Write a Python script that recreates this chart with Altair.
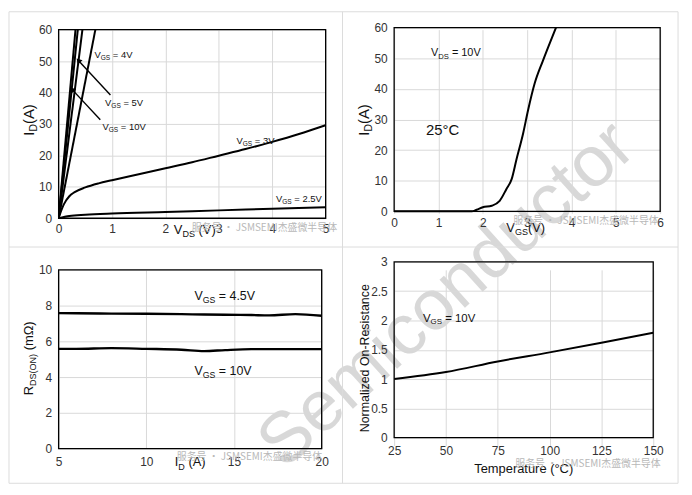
import altair as alt
import pandas as pd

# ---------------- data ----------------
# Panel 1: output characteristics, I_D (A) vs V_DS (V)
out_vds_c1 = [0.0, 0.316]
out_id_c1 = [0.0, 60.0]
out_vds_10v = [0.0, 0.359]
out_id_10v = [0.0, 60.0]
out_vds_5v = [0.0, 0.446]
out_id_5v = [0.0, 60.0]
out_vds_4v = [0.0, 0.688]
out_id_4v = [0.0, 60.0]
out_vds_3v = [0, 0.05, 0.1, 0.2, 0.3, 0.5, 0.75, 1, 1.5, 2, 2.5, 3, 3.5, 4, 4.5, 5]
out_id_3v = [0, 2.5, 4.5, 7.0, 8.3, 9.8, 11.1, 12.1, 14.0, 15.9, 17.8, 19.9, 22.0, 24.3, 26.8, 29.6]
out_vds_25v = [0, 0.2, 0.5, 1, 2, 3, 4, 5]
out_id_25v = [0, 0.7, 1.1, 1.5, 2.0, 2.5, 3.0, 3.5]

# Panel 2: transfer characteristic, I_D (A) vs V_GS (V), V_DS = 10V
tr_vgs = [0, 1.75, 1.86, 2.0, 2.2, 2.38, 2.53, 2.65, 2.76, 2.91, 3.02, 3.17, 3.35, 3.47, 3.65]
tr_id = [0, 0, 0.5, 1.3, 1.8, 3.4, 7.2, 10.5, 17, 25.5, 33, 41.8, 49, 53.5, 60]

# Panel 3: R_DS(ON) (mOhm) vs I_D (A)
rds_id = [5, 6, 8, 10, 12, 13.3, 14.5, 16, 17, 18.5, 20]
rds_45v = [7.58, 7.57, 7.55, 7.54, 7.52, 7.50, 7.49, 7.47, 7.45, 7.52, 7.43]
rds_10v = [5.58, 5.58, 5.62, 5.58, 5.53, 5.45, 5.51, 5.56, 5.56, 5.56, 5.56]

# Panel 4: normalized on-resistance vs temperature
nr_temp = [25, 50, 75, 100, 125, 150]
nr_val = [1.0, 1.12, 1.30, 1.455, 1.62, 1.79]

# axis tick values
p1_xticks = [0, 1, 2, 3, 4, 5]
p1_yticks = [0, 10, 20, 30, 40, 50, 60]
p2_xticks = [0, 1, 2, 3, 4, 5, 6]
p2_yticks = [0, 10, 20, 30, 40, 50, 60]
p3_xticks = [5, 10, 15, 20]
p3_yticks = [0, 2, 4, 6, 8, 10]
p4_xticks = [25, 50, 75, 100, 125, 150]
p4_yticks = [0, 0.5, 1, 1.5, 2, 2.5, 3]

WATERMARK = "服务号 · JSMSEMI杰盛微半导体"
BIG_WATERMARK = "Semiconductor"

# ---------------- helpers ----------------
FONT = "Liberation Sans, Arial, sans-serif"
CJK = "Noto Sans CJK SC"
W = {'V': 0.667, 'G': 0.778, 'S': 0.667, 'D': 0.722, 'I': 0.278, 'R': 0.722,
     'O': 0.778, 'N': 0.722, ' ': 0.278, '=': 0.584, '.': 0.278, '(': 0.333,
     ')': 0.333, 'A': 0.667, 'm': 0.833, 'Ω': 0.768}


def tw(s, fs):
    return sum(W.get(c, 0.556) for c in s) * fs


def one():
    return pd.DataFrame({'k': [0]})


def pieces_layout(pieces, fs):
    out, cx = [], 0.0
    for txt, is_sub in pieces:
        f = round(fs * 0.7, 1) if is_sub else fs
        dy = round(fs * 0.32, 1) if is_sub else 0
        stripped = txt.lstrip(' ')
        cx += tw(txt[:len(txt) - len(stripped)], f)
        out.append((stripped, f, cx, dy))
        cx += tw(stripped, f)
    return out, cx


LABEL_EXPR = 'datum.value + ""'


def make_xy(xdom, xticks, ydom, yticks, xpad, yrange=None):
    def X(f):
        return alt.X(f, type='quantitative',
                     scale=alt.Scale(domain=xdom, nice=False, zero=False),
                     axis=alt.Axis(values=xticks, title=None, labelPadding=xpad, labelExpr=LABEL_EXPR))

    def Y(f):
        sc = dict(domain=ydom, nice=False, zero=False)
        if yrange is not None:
            sc['range'] = yrange
        return alt.Y(f, type='quantitative', scale=alt.Scale(**sc),
                     axis=alt.Axis(values=yticks, title=None, labelPadding=7, labelExpr=LABEL_EXPR))
    return X, Y


def data_label(X, Y, x, y, pieces, fs):
    items, _ = pieces_layout(pieces, fs)
    df = pd.DataFrame({'lx': [x], 'ly': [y]})
    return [alt.Chart(df).mark_text(text=t, align='left', baseline='middle', dx=round(dx, 1), dy=dy,
                                    fontSize=f, font=FONT, color='#111')
            .encode(x=X('lx'), y=Y('ly')) for t, f, dx, dy in items]


def px_label(px, py, pieces, fs, angle=0, center=True):
    items, total = pieces_layout(pieces, fs)
    start = -total / 2 if center else 0
    layers = []
    for t, f, dx, dy in items:
        kw = dict(text=t, align='left', baseline='middle', dx=round(start + dx, 1), dy=dy,
                  fontSize=f, font=FONT, color='#111')
        if angle:
            kw['angle'] = angle
        layers.append(alt.Chart(one()).mark_text(**kw).encode(x=alt.value(px), y=alt.value(py)))
    return layers


def watermark(px, py):
    return alt.Chart(one()).mark_text(text=WATERMARK, align='left', baseline='middle', fontSize=10,
                                      font=CJK, color='#b8b8b8').encode(x=alt.value(px), y=alt.value(py))


def border(w, y0, y1):
    return alt.Chart(one()).mark_rect(fillOpacity=0, stroke='black', strokeWidth=1.3).encode(
        x=alt.value(0), x2=alt.value(w), y=alt.value(y0), y2=alt.value(y1))


def frame_rule(x1, y1, x2, y2):
    return alt.Chart(one()).mark_rule(color='#dcdcdc', strokeWidth=1).encode(
        x=alt.value(x1), x2=alt.value(x2), y=alt.value(y1), y2=alt.value(y2))


def curves(X, Y, series, width=2.0, clip=True):
    rows = []
    for name, xs, ys in series:
        for a, b in zip(xs, ys):
            rows.append({'x': a, 'y': b, 's': name})
    df = pd.DataFrame(rows)
    return alt.Chart(df).mark_line(color='black', strokeWidth=width, interpolate='monotone', clip=clip).encode(
        x=X('x'), y=Y('y'), detail='s:N')


# ---------------- panel 1 ----------------
W1, H1 = 269, 190
X1, Y1 = make_xy([0, 5], p1_xticks, [0, 60], p1_yticks, 5)
p1_layers = [
    alt.Chart(one()).mark_text(text=BIG_WATERMARK, align='center', baseline='middle', fontSize=72,
                               font=FONT, color='#cccccc', opacity=0.75, angle=318)
    .encode(x=alt.value(391), y=alt.value(267)),
    frame_rule(-50, -18, 624, -18), frame_rule(-50, 457, 624, 457),
    frame_rule(-50, -18, -50, 457), frame_rule(624, -18, 624, 457),
    frame_rule(286, -18, 286, 457), frame_rule(-50, 219, 624, 219),
    curves(X1, Y1, [('c1', out_vds_c1, out_id_c1), ('10V', out_vds_10v, out_id_10v),
                    ('5V', out_vds_5v, out_id_5v), ('4V', out_vds_4v, out_id_4v),
                    ('3V', out_vds_3v, out_id_3v), ('2.5V', out_vds_25v, out_id_25v)]),
]
arrows = pd.DataFrame({'x': [0.97, 0.37, 0.78, 0.25], 'y': [39.2, 50.2, 31.3, 41.0], 'a': ['5', '5', '10', '10']})
p1_layers.append(alt.Chart(arrows).mark_line(color='black', strokeWidth=1.4).encode(x=X1('x'), y=Y1('y'), detail='a:N'))
heads = pd.DataFrame({'x': [0.37, 0.25], 'y': [50.2, 41.0]})
p1_layers.append(alt.Chart(heads).mark_point(shape='triangle-up', filled=True, size=40, color='black', opacity=1,
                                            angle=318).encode(x=X1('x'), y=Y1('y')))
fs1 = 9.5
p1_layers += data_label(X1, Y1, 0.67, 51.8, [('V', 0), ('GS', 1), (' = 4V', 0)], fs1)
p1_layers += data_label(X1, Y1, 0.87, 36.6, [('V', 0), ('GS', 1), (' = 5V', 0)], fs1)
p1_layers += data_label(X1, Y1, 0.82, 29.0, [('V', 0), ('GS', 1), (' = 10V', 0)], fs1)
p1_layers += data_label(X1, Y1, 3.33, 24.7, [('V', 0), ('GS', 1), (' = 3V', 0)], fs1)
p1_layers += data_label(X1, Y1, 4.07, 6.0, [('V', 0), ('GS', 1), (' = 2.5V', 0)], fs1)
p1_layers += px_label(116, 202, [('V', 0), ('DS', 1), (' (V)', 0)], 13, center=False)
p1_layers += px_label(-30, 91, [('I', 0), ('D', 1), ('(A)', 0)], 15, angle=270)
p1_layers.append(watermark(134, 200))
p1_layers.append(border(W1, 0, H1))
p1 = alt.layer(*p1_layers).properties(width=W1, height=H1)

# ---------------- panel 2 ----------------
W2, H2 = 268, 183
X2, Y2 = make_xy([0, 6], p2_xticks, [0, 60], p2_yticks, 6, yrange=[183, -2])
p2_layers = [curves(X2, Y2, [('tr', tr_vgs, tr_id)], clip=False)]
p2_layers += data_label(X2, Y2, 0.83, 51.6, [('V', 0), ('DS', 1), (' = 10V', 0)], 11)
p2_layers.append(alt.Chart(pd.DataFrame({'lx': [0.72], 'ly': [26.6]})).mark_text(
    text='25°C', align='left', baseline='middle', fontSize=15, font=FONT, color='#111')
    .encode(x=X2('lx'), y=Y2('ly')))
p2_layers += px_label(113, 200, [('V', 0), ('GS', 1), ('(V)', 0)], 13, center=False)
p2_layers += px_label(-30, 91, [('I', 0), ('D', 1), ('(A)', 0)], 15, angle=270)
p2_layers.append(watermark(120, 193))
p2_layers.append(border(W2, -2, H2))
p2 = alt.layer(*p2_layers).properties(width=W2, height=H2)

# ---------------- panel 3 ----------------
W3, H3 = 265, 180
X3, Y3 = make_xy([5, 20], p3_xticks, [0, 10], p3_yticks, 8)
p3_layers = [curves(X3, Y3, [('4.5V', rds_id, rds_45v), ('10V', rds_id, rds_10v)], width=2.4)]
p3_layers += data_label(X3, Y3, 12.75, 8.56, [('V', 0), ('GS', 1), (' = 4.5V', 0)], 12.5)
p3_layers += data_label(X3, Y3, 12.75, 4.33, [('V', 0), ('GS', 1), (' = 10V', 0)], 12.5)
p3_layers += px_label(117, 194, [('I', 0), ('D', 1), (' (A)', 0)], 13, center=False)
p3_layers += px_label(-30, 89, [('R', 0), ('DS(ON)', 1), (' (mΩ)', 0)], 13, angle=270)
p3_layers.append(watermark(119, 189))
p3_layers.append(border(W3, 0, H3))
p3 = alt.layer(*p3_layers).properties(width=W3, height=H3)

# ---------------- panel 4 ----------------
W4, H4 = 261, 169
X4, Y4 = make_xy([25, 150], p4_xticks, [0, 3], p4_yticks, 8, yrange=[169, -8])
p4_layers = [curves(X4, Y4, [('nr', nr_temp, nr_val)])]
p4_layers += data_label(X4, Y4, 38.9, 2.03, [('V', 0), ('GS', 1), (' = 10V', 0)], 11.5)
p4_layers.append(alt.Chart(one()).mark_text(text='Temperature (°C)', align='center', baseline='middle',
                                            fontSize=13, font=FONT, color='#111')
                 .encode(x=alt.value(130.5), y=alt.value(201)))
p4_layers.append(alt.Chart(one()).mark_text(text='Normalized On-Resistance', align='center', baseline='middle',
                                            fontSize=12.5, font=FONT, color='#111', angle=270)
                 .encode(x=alt.value(-29), y=alt.value(89)))
p4_layers.append(watermark(122, 196))
p4_layers.append(border(W4, -8, H4))
p4 = alt.layer(*p4_layers).properties(width=W4, height=H4)

chart = alt.concat(p1, p2, p3, p4, columns=2, spacing={'row': 52, 'column': 69}, bounds='flush',
                   align={'row': 'none', 'column': 'each'}).properties(
    padding={'left': 0, 'top': 1, 'right': 5, 'bottom': 5},
    background='white',
).configure_view(stroke=None).configure_axis(
    grid=True, gridColor='#d9d9d9', gridWidth=1, domain=False, ticks=False, tickSize=0,
    labelFont=FONT, labelFontSize=12, labelColor='#333', labelFlush=False,
    labelOverlap=False, labelBound=False,
)

chart.save("out.html", embed_options={"renderer": "svg", "actions": False})
